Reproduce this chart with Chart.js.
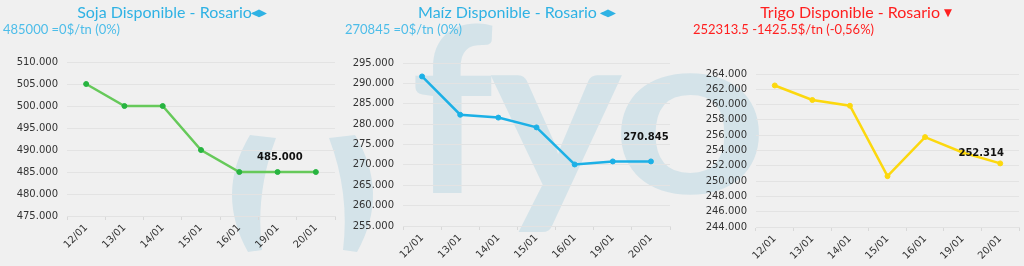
<!DOCTYPE html>
<html>
<head>
<meta charset="utf-8">
<script src="https://cdn.jsdelivr.net/npm/chart.js@4.4.1/dist/chart.umd.min.js"></script>
<style>
  html, body { margin: 0; padding: 0; background: #f0f0f0; }
  #wrap { position: relative; width: 1024px; height: 266px; overflow: hidden; background: #f0f0f0; }
  #marca { position: absolute; left: 0; top: 0; }
  .panel { position: absolute; top: 0; height: 266px; }
  .titulo { position: absolute; top: 0; width: 320px; text-align: center; font-family: Lato, sans-serif; font-size: 16px; line-height: 24px; white-space: nowrap; }
  .sub { position: absolute; top: 21px; font-family: Lato, sans-serif; font-size: 13px; line-height: 16px; white-space: nowrap; }
  .rombo { display: inline-block; transform: scale(1.35, 0.65); margin-left: 1px; }
  .flecha { display: inline-block; transform: scale(0.85, 0.85); }
  .azul { color: #2fb2e4; }
  .azul2 { color: #4dbde9; }
  .rojo { color: #ff1f1f; }
</style>
</head>
<body>
<div id="wrap">
  <svg id="marca" width="1024" height="266" viewBox="0 0 1024 266">
    <g fill="#d4e3e9" font-family="Lato" font-weight="bold" font-size="230">
      <path d="M 250 135 Q 215 193 248 252 L 262 250 Q 255 193 276 138 Z"/>
      <path d="M 355 135 Q 390 193 357 252 L 343 250 Q 350 193 329 138 Z"/>
      <text x="452" y="193" text-anchor="middle">f</text>
      <text x="490" y="193" textLength="132" lengthAdjust="spacingAndGlyphs">y</text>
      <text x="612" y="193" textLength="156" lengthAdjust="spacingAndGlyphs">o</text>
    </g>
  </svg>
  <div class="panel" style="left:0;width:341px"><canvas id="c-soja"></canvas></div>
  <div class="panel" style="left:341px;width:341px"><canvas id="c-maiz"></canvas></div>
  <div class="panel" style="left:682px;width:342px"><canvas id="c-trigo"></canvas></div>

  <div class="titulo azul" style="left:11px">Soja Disponible - Rosario<span class="rombo">◆</span></div>
  <div class="sub azul2" style="left:3px">485000 =0$/tn (0%)</div>
  <div class="titulo azul" style="left:356px">Maíz Disponible - Rosario <span class="rombo">◆</span></div>
  <div class="sub azul2" style="left:345px">270845 =0$/tn (0%)</div>
  <div class="titulo rojo" style="left:698px">Trigo Disponible - Rosario<span class="flecha">▼</span></div>
  <div class="sub rojo" style="left:693px">252313.5 -1425.5$/tn (-0,56%)</div>
</div>
<script>
// fechas y precios (ARS/tn)
var fechas = ['12/01', '13/01', '14/01', '15/01', '16/01', '19/01', '20/01'];
var soja = [505000, 500000, 500000, 490000, 485000, 485000, 485000];
var maiz = [291700, 282300, 281600, 279200, 270100, 270845, 270845];
var trigo = [262500, 260600, 259850, 250650, 255750, 253739, 252313.5];

var ejeSoja = { min: 475000, max: 510000, paso: 5000 };
var ejeMaiz = { min: 255000, max: 295000, paso: 5000 };
var ejeTrigo = { min: 244000, max: 264000, paso: 2000 };

function miles(v) { return String(Math.round(v)).replace(/\B(?=(\d{3})+(?!\d))/g, '.'); }

// etiqueta del último valor, desplazada respecto del punto
var etiquetaFinal = {
  id: 'etiquetaFinal',
  afterDatasetsDraw: function (chart, args, opts) {
    var meta = chart.getDatasetMeta(0);
    var datos = chart.data.datasets[0].data;
    var i = datos.length - 1;
    var p = meta.data[i];
    if (!p) return;
    var ctx = chart.ctx;
    ctx.save();
    ctx.font = 'bold 10px "DejaVu Sans"';
    ctx.fillStyle = '#111';
    ctx.textAlign = 'center';
    ctx.textBaseline = 'middle';
    ctx.fillText(miles(datos[i]), p.x + opts.dx, p.y + opts.dy);
    ctx.restore();
  }
};

function grafico(id, valores, eje, c) {
  return new Chart(document.getElementById(id), {
    type: 'line',
    data: {
      labels: fechas,
      datasets: [{
        data: valores,
        borderColor: c.linea,
        backgroundColor: c.punto,
        pointBackgroundColor: c.punto,
        pointBorderColor: c.punto,
        borderWidth: 2.5,
        pointRadius: 2.5,
        pointBorderWidth: 1,
        tension: 0,
        fill: false
      }]
    },
    options: {
      responsive: true,
      maintainAspectRatio: false,
      animation: false,
      layout: { padding: { top: c.arriba, right: c.derecha, bottom: 0, left: 0 } },
      plugins: {
        legend: { display: false },
        tooltip: { enabled: false },
        etiquetaFinal: { dx: c.dx, dy: c.dy }
      },
      scales: {
        x: {
          offset: true,
          grid: { offset: true, drawOnChartArea: false, color: '#d8d8d8', tickLength: 4 },
          border: { color: '#e2e2e2' },
          ticks: { color: '#333', font: { family: 'DejaVu Sans', size: 10 }, minRotation: 45, maxRotation: 45, padding: 2, autoSkip: false },
          afterFit: function (s) { s.height = c.altoX; }
        },
        y: {
          min: eje.min,
          max: eje.max,
          grid: { color: '#e3e3e3', drawTicks: false },
          border: { display: false },
          ticks: { stepSize: eje.paso, color: '#333', padding: 9, font: { family: 'DejaVu Sans', size: 10 }, callback: function (v) { return miles(v); } },
          afterFit: function (s) { s.width = c.anchoY; }
        }
      }
    },
    plugins: [etiquetaFinal]
  });
}

grafico('c-soja', soja, ejeSoja, { linea: '#66c95a', punto: '#27b440', arriba: 62, derecha: 6, altoX: 50, anchoY: 67, dx: -36, dy: -15 });
grafico('c-maiz', maiz, ejeMaiz, { linea: '#1cb0e6', punto: '#1cb0e6', arriba: 63, derecha: 12, altoX: 40, anchoY: 62, dx: -5, dy: -24 });
grafico('c-trigo', trigo, ejeTrigo, { linea: '#fcd80e', punto: '#fcd80e', arriba: 74, derecha: 2, altoX: 39, anchoY: 74, dx: -19, dy: -10 });
</script>
</body>
</html>
